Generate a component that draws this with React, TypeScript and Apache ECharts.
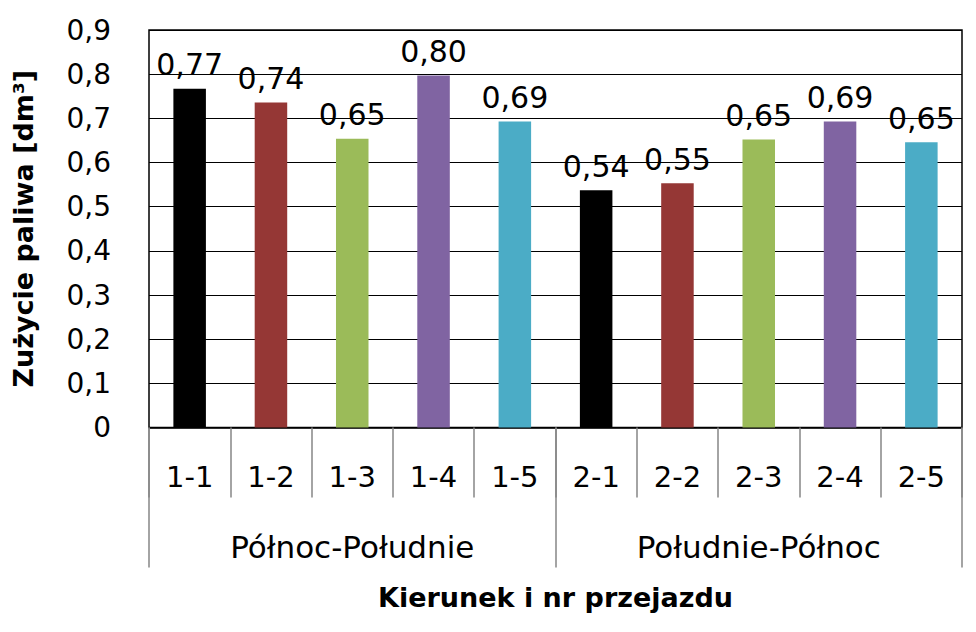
import React, { useEffect, useRef } from "react";
import * as echarts from "echarts";

const categories = ["1-1", "1-2", "1-3", "1-4", "1-5", "2-1", "2-2", "2-3", "2-4", "2-5"];
const groups = ["Północ-Południe", "Południe-Północ"];
const values = [0.767, 0.736, 0.654, 0.797, 0.693, 0.537, 0.553, 0.652, 0.693, 0.646];
const barColors = ["#000000", "#953735", "#9BBB59", "#8064A2", "#4BACC6", "#000000", "#953735", "#9BBB59", "#8064A2", "#4BACC6"];
const yTicks = [0, 0.1, 0.2, 0.3, 0.4, 0.5, 0.6, 0.7, 0.8, 0.9];

const FONT = "DejaVu Sans";

export default function App() {
  const ref = useRef<HTMLDivElement>(null);
  useEffect(() => {
    const chart = echarts.init(ref.current!, null, { renderer: "svg" });
    const fmt = (v: number) => {
      const r = Math.round(v * 10) / 10;
      return r === 0 ? "0" : r.toFixed(1).replace(".", ",");
    };
    chart.setOption({
      animation: false,
      backgroundColor: "#ffffff",
      textStyle: { fontFamily: FONT },
      grid: {
        left: 149,
        right: 14,
        top: 30,
        bottom: 204.5,
        show: true,
        borderColor: "#000",
        borderWidth: 1.5,
      },
      xAxis: [
        {
          type: "category",
          data: categories,
          position: "bottom",
          boundaryGap: true,
          axisLine: { show: true, lineStyle: { color: "#000", width: 1.5 } },
          axisTick: { show: true, length: 70, lineStyle: { color: "#868686", width: 1.5 } },
          axisLabel: { fontSize: 29, color: "#000", margin: 35, lineHeight: 29, fontFamily: FONT },
          name: "Kierunek i nr przejazdu",
          nameLocation: "middle",
          nameGap: 156,
          nameTextStyle: { fontSize: 27, fontWeight: "bold", color: "#000", fontFamily: FONT },
        },
        {
          type: "category",
          data: groups,
          position: "bottom",
          offset: 0,
          boundaryGap: true,
          axisLine: { show: false },
          axisTick: { show: true, length: 140, lineStyle: { color: "#868686", width: 1.5 } },
          axisLabel: { fontSize: 31, color: "#000", margin: 104, lineHeight: 31, fontFamily: FONT },
        },
      ],
      yAxis: {
        type: "value",
        min: 0,
        max: 0.9,
        interval: 0.1,
        axisLine: { show: false },
        axisTick: { show: false },
        splitLine: { show: true, lineStyle: { color: "#000", width: 1 } },
        axisLabel: {
          fontSize: 28,
          color: "#000",
          margin: 38,
          fontFamily: FONT,
          formatter: (v: number) => fmt(v),
        },
        name: "Zużycie paliwa [dm³]",
        nameLocation: "middle",
        nameGap: 112,
        nameTextStyle: { fontSize: 27, fontWeight: "bold", color: "#000", fontFamily: FONT },
      },
      series: [
        {
          type: "bar",
          xAxisIndex: 0,
          barWidth: "40%",
          data: values.map((v, i) => ({ value: v, itemStyle: { color: barColors[i] } })),
          label: {
            show: true,
            position: "top",
            distance: 9,
            fontSize: 30,
            color: "#000",
            fontFamily: FONT,
            formatter: (p: any) => p.value.toFixed(2).replace(".", ","),
          },
        },
      ],
    });
    return () => chart.dispose();
  }, []);
  return <div ref={ref} style={{ width: 976, height: 632, position: "absolute", left: 0, top: 0 }} />;
}
